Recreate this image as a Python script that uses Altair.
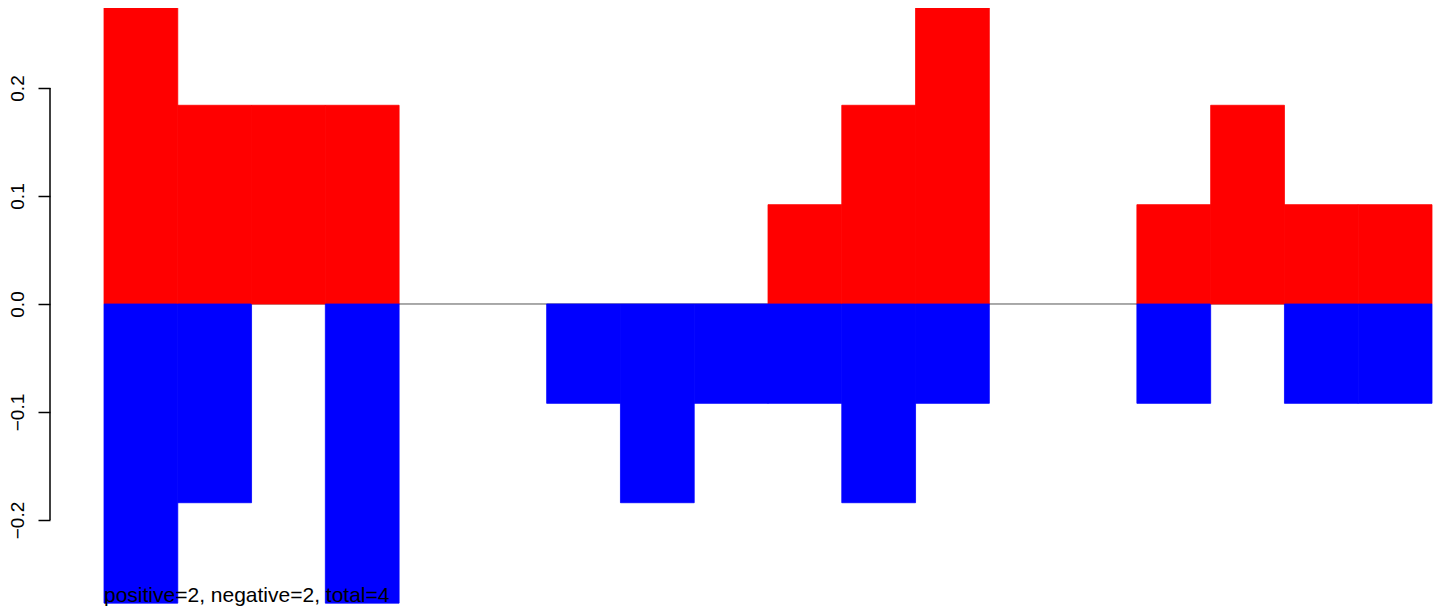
import altair as alt
import pandas as pd

# bar values (18 bins)
pos_values = [0.277, 0.184, 0.184, 0.184, 0, 0, 0, 0, 0, 0.092, 0.184, 0.277, 0, 0, 0.092, 0.184, 0.092, 0.092]
neg_values = [-0.277, -0.184, 0, -0.277, 0, 0, -0.092, -0.184, -0.092, -0.092, -0.184, -0.092, 0, 0, -0.092, 0, -0.092, -0.092]
y_ticks = [-0.2, -0.1, 0.0, 0.1, 0.2]
note = "positive=2, negative=2, total=4"

n = len(pos_values)
rows = []
for i in range(n):
    rows.append({"x0": i, "x1": i + 1, "b": 0.0, "v": pos_values[i], "sign": "pos"})
    rows.append({"x0": i, "x1": i + 1, "b": 0.0, "v": neg_values[i], "sign": "neg"})
df = pd.DataFrame(rows)
df = df[df["v"] != 0]

xscale = alt.Scale(domain=[0, n], nice=False, zero=False)
yscale = alt.Scale(domain=[-0.28148, 0.27407], nice=False, zero=False)
cscale = alt.Scale(domain=["pos", "neg"], range=["#ff0000", "#0000ff"])

yaxis = alt.Axis(
    values=y_ticks,
    format=".1f",
    title=None,
    domain=False,
    grid=False,
    ticks=True,
    tickColor="black",
    tickSize=12,
    tickWidth=1.5,
    offset=54,
    labelAngle=270,
    labelAlign="center",
    labelBaseline="bottom",
    labelPadding=11,
    labelFont="Liberation Sans",
    labelFontSize=19,
    labelColor="black",
)

zero_line = alt.Chart(pd.DataFrame({"y": [0.0]})).mark_rule(
    color="#555555", strokeWidth=1
).encode(
    y=alt.Y("y:Q", scale=yscale, axis=yaxis),
)

bars = alt.Chart(df).mark_rect(strokeWidth=0.8).encode(
    x=alt.X("x0:Q", scale=xscale, axis=None),
    x2="x1:Q",
    y=alt.Y("b:Q", scale=yscale, axis=yaxis),
    y2="v:Q",
    color=alt.Color("sign:N", scale=cscale, legend=None),
    stroke=alt.Stroke("sign:N", scale=cscale, legend=None),
)

axis_line = alt.Chart(pd.DataFrame({"a": [min(y_ticks)], "c": [max(y_ticks)]})).mark_rule(
    color="black", strokeWidth=1.5
).encode(
    x=alt.value(-54),
    y=alt.Y("a:Q", scale=yscale, axis=yaxis),
    y2="c:Q",
)

text = alt.Chart(pd.DataFrame({"t": [note]})).mark_text(
    align="left", baseline="alphabetic", font="Liberation Sans", fontSize=21, color="black"
).encode(
    x=alt.value(0),
    y=alt.value(594),
    text="t:N",
)

chart = alt.layer(zero_line, bars, axis_line, text).properties(
    width=1328,
    height=600,
    padding={"left": 96, "top": 0, "right": 4, "bottom": 6},
    autosize=alt.AutoSizeParams(type="none"),
    background="white",
).configure_view(strokeWidth=0, stroke="transparent")

chart.save("out.html", embed_options={"renderer": "svg", "actions": False})
